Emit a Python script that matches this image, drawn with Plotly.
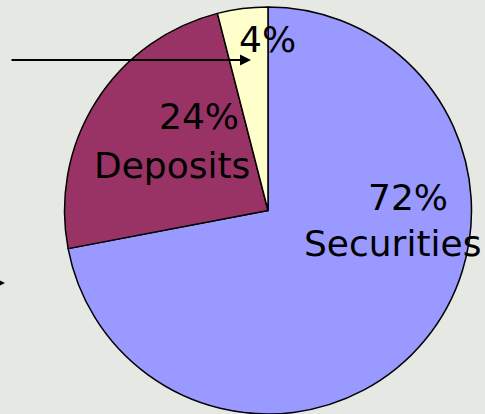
import plotly.graph_objects as go

labels = ["Securities", "Deposits", "Other"]
values = [72, 24, 4]
colors = ["#9999FF", "#993366", "#FFFFCC"]
shown_names = ["Securities", "Deposits", ""]

W, H = 485, 414

fig = go.Figure()
fig.add_trace(go.Pie(
    labels=labels, values=values, sort=False, direction="clockwise", rotation=0,
    marker=dict(colors=colors, line=dict(color="black", width=1.5)),
    textinfo="none", hoverinfo="label+percent", showlegend=False,
    domain=dict(x=[64 / W, 472 / W], y=[0, 407 / H]),
))

def px(x, y):
    return x / W, 1 - y / H

font = dict(family="DejaVu Sans", size=36, color="black")
# label positions (pixel centres)
pct_pos = [(408, 197), (199, 116), (267, 40)]
name_pos = [(392, 244), (172, 165), None]

annotations = []
for v, n, pp, npos in zip(values, shown_names, pct_pos, name_pos):
    x, y = px(*pp)
    annotations.append(dict(text=f"{v}%", x=x, y=y, xref="paper", yref="paper",
                            showarrow=False, font=font, xanchor="center", yanchor="middle"))
    if npos and n:
        x, y = px(*npos)
        annotations.append(dict(text=n, x=x, y=y, xref="paper", yref="paper",
                                showarrow=False, font=font, xanchor="center", yanchor="middle"))

# arrow pointing at the small slice
tx, ty = px(251, 60)
annotations.append(dict(text="", x=tx, y=ty, xref="paper", yref="paper", showarrow=True,
                        ax=-241, ay=0, axref="pixel", ayref="pixel",
                        arrowhead=2, arrowsize=1.1, arrowwidth=2, arrowcolor="black"))
# partial arrow at the left edge
tx, ty = px(5, 283)
annotations.append(dict(text="", x=tx, y=ty, xref="paper", yref="paper", showarrow=True,
                        ax=-40, ay=0, arrowhead=2, arrowsize=1.3, arrowwidth=2, arrowcolor="black"))

fig.update_layout(
    width=W, height=H, margin=dict(l=0, r=0, t=0, b=0),
    paper_bgcolor="#e6e8e4", plot_bgcolor="#e6e8e4",
    annotations=annotations,
)

fig.write_html("out.html", config={"displayModeBar": False},
               post_script="document.body.style.margin='0';document.body.style.overflow='hidden';")
